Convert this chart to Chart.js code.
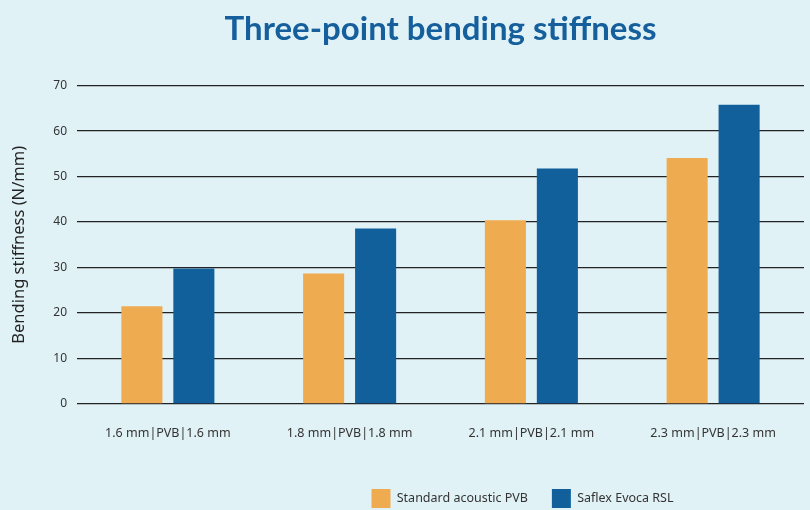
<!DOCTYPE html>
<html lang="en">
<head>
    <meta charset="UTF-8">
    <title>Three-point bending stiffness</title>
    <script src="https://cdn.jsdelivr.net/npm/chart.js"></script>
    <style>
        html, body { margin: 0; padding: 0; background: #e1f2f7; }
        .box-grafico { width: 810px; height: 510px; }
    </style>
</head>
<body>
    <div class="box-grafico">
        <canvas id="grafico_barras"></canvas>
    </div>
</body>
</html>
<script>
    var categorias = ['1.6 mm|PVB|1.6 mm', '1.8 mm|PVB|1.8 mm', '2.1 mm|PVB|2.1 mm', '2.3 mm|PVB|2.3 mm'];
    var nome_series = ['Standard acoustic PVB', 'Saflex Evoca RSL'];
    var valores_standard = [21.5, 28.7, 40.4, 54.1];
    var valores_evoca = [29.8, 38.6, 51.8, 65.8];
    var cor_laranja = '#efab4f';
    var cor_azul = '#115f9b';
    var fonte = "'Noto Sans', sans-serif";

    // empurra a legenda para a direita e para baixo, como no original
    var moverLegenda = {
        id: 'moverLegenda',
        afterLayout: function (chart) {
            chart.legend.left += 82;
            chart.legend.right += 82;
            chart.legend.top += 8;
            chart.legend.bottom += 8;
        }
    };

    const chart = new Chart('grafico_barras', {
        type: 'bar',
        data: {
            labels: categorias,
            datasets: [{
                label: nome_series[0],
                data: valores_standard,
                backgroundColor: cor_laranja,
                borderWidth: 0
            }, {
                label: nome_series[1],
                data: valores_evoca,
                backgroundColor: cor_azul,
                borderWidth: 0
            }]
        },
        options: {
            responsive: true,
            maintainAspectRatio: false,
            animation: false,
            layout: { padding: { left: 9, right: 6, top: 0, bottom: 0 } },
            categoryPercentage: 0.572,
            barPercentage: 0.79,
            plugins: {
                title: {
                    display: true,
                    text: 'Three-point bending stiffness',
                    color: '#145f9c',
                    fullSize: false,
                    font: { family: "'Lato', sans-serif", size: 33, weight: 'bold' },
                    padding: { top: 10, bottom: 36 }
                },
                legend: {
                    position: 'bottom',
                    fullSize: false,
                    labels: {
                        color: '#333',
                        boxWidth: 19,
                        boxHeight: 19,
                        padding: 24,
                        font: { family: fonte, size: 12.5 }
                    }
                },
                tooltip: { enabled: false }
            },
            scales: {
                x: {
                    grid: { display: false },
                    border: { display: false },
                    ticks: {
                        color: '#333',
                        padding: 14,
                        font: { family: fonte, size: 12.5 }
                    },
                    afterFit: function (scale) { scale.height = 53; }
                },
                y: {
                    min: 0,
                    max: 70,
                    border: { display: false },
                    grid: { color: '#222', lineWidth: 1.3, drawTicks: false },
                    ticks: {
                        stepSize: 10,
                        color: '#333',
                        padding: 10,
                        font: { family: fonte, size: 12 }
                    },
                    title: {
                        display: true,
                        text: 'Bending stiffness (N/mm)',
                        color: '#222',
                        font: { family: fonte, size: 16.5 },
                        padding: { top: 0, bottom: 8 }
                    },
                    afterFit: function (scale) { scale.width = 68; }
                }
            }
        },
        plugins: [moverLegenda]
    });
</script>
